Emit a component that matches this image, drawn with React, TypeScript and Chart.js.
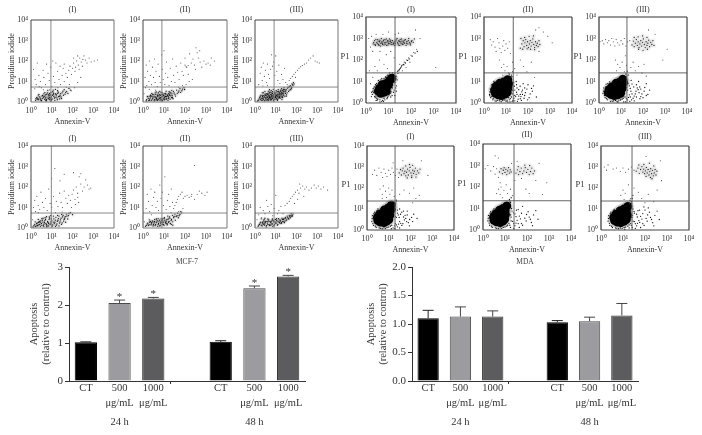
import React, { useEffect, useRef } from "react";
import { Chart, registerables } from "chart.js";
Chart.register(...registerables);

const SERIF = "'Liberation Serif', serif";
const decadeLabels = ["10⁰", "10¹", "10²", "10³", "10⁴"];
const barLabels = ["CT", ["500", "μg/mL"], ["1000", "μg/mL"], "", "CT", ["500", "μg/mL"], ["1000", "μg/mL"]];
const timeLabels = ["", "24 h", "", "", "", "48 h", ""];
const barFills = ["#000000", "#9c9ca0", "#5c5c5e", "#000", "#000000", "#9c9ca0", "#5c5c5e"];
const barEdges = ["#000000", "#4a4a4a", "#333333", "#000", "#000000", "#4a4a4a", "#333333"];

const mcfValues = [1.02, 2.05, 2.17, null, 1.03, 2.44, 2.75];
const mcfErrorTops = [1.03, 2.13, 2.2, null, 1.06, 2.5, 2.78];
const mcfStars = ["", "*", "*", "", "", "*", "*"];
const mdaValues = [1.1, 1.13, 1.13, null, 1.03, 1.05, 1.15];
const mdaErrorTops = [1.24, 1.3, 1.23, null, 1.06, 1.12, 1.36];
const mdaStars = ["", "", "", "", "", "", ""];

// flow-cytometry dots: flat x,y pairs in hundredths of a decade
const a1Core = [30,12,42,25,55,18,68,30,75,12,88,22,95,35,102,15,110,28,118,40,125,20,132,48,140,33,150,45,160,60,172,52,48,8,62,40,80,45,92,10,105,50,115,8,35,30,28,22,70,20,84,30,98,25,108,38,122,30,138,15,22,8,56,32,76,38,90,42,128,55,145,25,178,42,190,58];
const a1Extra = [47,14,63,27,71,9,83,17,97,6,103,33,113,19,127,11,136,27,91,31,77,24,66,13,53,29,44,19,37,11,109,43,121,37,143,41,133,26,156,33,167,47,99,13,86,37,74,6,61,21,51,6,33,17,116,23,147,17,129,42,96,47,81,57,67,46,107,58,118,62,154,53,183,66,164,38,38,37,24,16,88,14,72,36,94,19];
const a1Sparse = [12,160,20,110,25,85,30,190,38,130,45,100,50,70,58,155,62,120,70,85,75,185,82,140,88,105,95,170,100,75,108,125,115,95,120,190,128,150,135,110,142,85,150,130,155,165,160,100,168,140,175,120,182,155,188,175,195,135,200,165,205,190,212,150,220,200,228,180,235,215,242,195,248,175,255,225,262,205,270,190,280,215,290,195,305,200,320,205,210,70,195,55,225,95,185,85,240,120,60,60,40,75,18,65,90,60,130,70,170,72,215,170,232,160,250,208,225,225,205,215,160,185,140,175,105,200];
const a2Core = [15,5,25,18,32,8,38,28,45,15,52,35,58,22,62,10,68,28,72,40,78,18,82,32,88,24,92,45,96,14,100,30,104,20,108,42,112,26,118,35,122,18,128,48,132,30,138,40,145,52,152,36,160,58,168,48,176,65,185,55,195,70,48,25,55,12,65,20,75,30,85,15,94,36,102,24,110,12,120,28,35,20,42,42,70,8,90,8,126,38,140,22,58,45,80,52];
const a2Extra = [17,11,23,26,27,7,31,14,36,33,41,9,43,29,47,19,53,6,57,27,61,37,64,17,67,11,69,33,73,14,77,24,79,36,81,9,83,21,87,37,89,13,91,27,93,6,97,33,99,19,101,41,103,11,107,27,109,36,113,17,116,31,119,9,121,41,123,23,127,33,129,14,133,44,136,21,139,31,143,16,148,44,155,29,163,41,171,54,179,47,188,63,198,61,73,47,47,37,33,29,21,27,63,49,86,47,110,53,137,57,124,51];
const a2Sparse = [5,40,10,120,15,180,18,80,22,150,28,100,30,200,35,130,40,85,45,170,50,120,55,210,58,95,62,150,68,75,72,185,78,125,82,95,88,230,92,160,96,110,100,250,104,85,108,140,112,195,118,120,124,80,130,165,135,100,140,210,146,130,152,95,158,175,165,145,172,110,180,190,186,150,192,130,200,215,208,170,215,135,222,235,230,190,238,210,245,180,250,160,258,240,265,215,272,195,280,170,290,200,300,185,310,190,325,215,340,200,205,85,220,100,235,110,170,72,188,82,60,58,30,62,12,70,200,180,215,178,205,172,320,180,270,250,252,265];
const a3Core = [12,5,20,15,25,28,30,8,35,20,38,32,42,12,45,25,48,38,52,18,55,30,58,8,60,24,62,42,65,15,68,32,70,22,72,48,75,10,78,28,80,38,82,18,85,50,88,25,90,35,92,12,95,42,98,22,100,30,102,55,105,18,108,38,110,28,112,60,115,45,118,22,120,35,122,52,125,30,128,65,130,42,132,25,135,55,138,40,140,70,145,50,150,62,155,45,160,72,165,58,170,80,175,65,180,85,185,95,70,60,88,62,48,52,108,8,130,12,150,28,35,45];
const a3Extra = [17,9,23,22,27,14,29,33,33,17,36,27,37,9,41,19,43,31,47,6,49,23,51,33,53,11,54,41,57,21,59,37,61,13,63,28,64,35,66,7,67,19,69,44,71,26,73,15,74,36,76,21,77,46,79,11,81,31,83,24,84,42,86,16,87,34,89,6,91,28,93,20,94,48,96,13,97,36,99,26,101,45,103,15,104,33,106,25,107,50,109,11,111,34,113,20,114,52,116,38,117,28,119,44,121,18,123,58,124,40,126,25,127,48,129,36,131,56,133,22,134,44,136,33,137,62,139,50,141,29,143,60,147,42,149,55,152,35,157,68,162,52,167,75,172,60,177,72,183,80,188,88,64,53,78,55,41,45];
const a3Sparse = [18,85,25,140,30,170,35,105,40,190,45,125,50,155,55,95,60,185,65,135,70,115,75,160,80,230,85,175,90,195,95,130,100,225,105,150,110,105,115,180,120,90,128,135,135,110,142,165,148,95,155,85,165,105,172,115,180,125,188,135,195,145,205,155,212,165,220,172,228,178,238,185,248,190,258,205,268,215,280,225,290,200,300,195,310,190,168,75,60,82,38,78,195,120,178,90];
const b1Core = [10,5,18,18,25,10,30,25,35,15,40,32,45,8,50,22,55,38,60,14,65,28,70,42,75,18,80,32,85,10,90,48,95,24,100,36,105,15,110,45,115,28,120,52,125,20,130,38,135,58,140,30,145,48,150,25,155,62,160,42,165,55,170,68,180,60,190,75,200,65,58,48,75,55,95,60,20,30,35,42];
const b1Extra = [14,12,21,7,27,21,32,11,37,27,42,17,47,35,52,13,57,29,62,8,67,36,72,21,77,11,82,27,87,41,92,17,97,31,102,9,107,29,112,21,117,38,122,14,127,33,132,46,137,24,142,40,147,18,152,54,157,34,162,48,167,28,173,58,177,44,183,70,52,46,68,50,88,54,108,58,128,62,148,66,44,28,76,6,98,44,118,8,135,10,85,22,63,20];
const b1Sparse = [8,40,12,100,18,135,22,80,28,155,35,110,42,90,48,175,55,125,62,100,70,145,78,85,85,190,92,120,100,100,108,155,115,290,122,130,130,105,138,170,145,125,152,100,160,180,168,145,175,120,182,160,190,135,198,165,205,185,212,140,218,200,225,170,232,250,240,215,248,180,256,200,264,235,272,210,280,190,288,195,160,262,140,230,100,240,215,115,230,125,195,100,118,75,150,78,35,75,205,270,240,265,225,150];
const b2Core = [12,8,20,20,26,12,32,28,38,15,44,35,48,10,52,24,56,42,60,16,66,30,70,8,74,22,78,38,82,14,86,45,90,26,94,35,98,18,102,50,106,30,110,22,114,42,118,58,122,28,128,48,134,36,140,62,146,50,152,68,158,56,165,72,172,60,180,80,30,40,55,32,85,30,115,15,135,18];
const b2Extra = [16,13,23,24,29,16,35,32,41,20,46,30,50,16,54,30,58,12,63,26,68,36,72,16,76,30,80,10,84,24,88,36,92,18,96,28,100,12,104,38,108,26,112,34,116,20,120,44,124,32,130,22,136,42,142,30,148,56,154,38,162,60,168,50,176,66,184,74,40,26,64,44,100,46,126,54,142,14,92,44,72,46];
const b2Sparse = [6,30,15,95,20,165,26,130,32,80,38,190,44,110,50,150,56,175,62,100,68,130,74,85,80,210,86,145,92,175,98,110,104,250,110,90,116,135,122,165,128,105,134,75,140,125,146,95,152,110,158,125,164,140,170,155,178,165,186,175,192,145,200,155,210,160,220,150,232,165,245,140,258,165,268,180,280,170,295,160,305,175,245,305,230,155,40,65,170,80,190,95,135,190];
const b3Core = [15,8,22,18,28,28,34,10,38,22,42,35,46,14,50,26,54,5,58,32,62,18,66,40,70,12,74,28,78,20,82,38,86,8,90,30,94,16,98,42,102,24,106,34,110,18,114,46,118,28,122,38,126,22,130,48,134,32,138,42,142,26,146,52,150,36,155,58,160,46,165,62,170,50,175,70,180,60,30,45,48,48];
const b3Extra = [18,14,24,24,30,14,36,28,40,18,44,30,47,20,52,32,56,12,60,24,64,34,68,16,72,32,76,14,80,30,84,20,88,36,92,12,96,30,100,24,104,38,108,14,112,30,116,40,120,24,124,34,128,26,132,42,136,30,140,46,144,34,148,48,153,40,158,52,163,44,168,56,173,62,178,56,183,68,62,44,84,44,104,46,44,42];
const b3Sparse = [10,40,18,65,25,100,32,50,40,85,48,70,55,135,62,105,70,80,78,115,85,60,92,95,100,160,108,70,115,85,125,105,135,70,145,110,155,120,165,130,172,145,180,155,188,165,195,175,205,185,212,170,220,195,230,205,240,190,248,200,260,185,272,195,285,210,295,195,305,205,318,190,330,200,350,185,215,215,235,155,205,140,190,120];

const c1Blob = [55,55,65,45,78,50,90,55,60,68,75,68,90,72,100,85,72,85,87,90,105,105,115,115];
const c1Halo = [28,40,32,68,38,30,42,85,48,22,55,105,62,15,70,115,80,22,88,118,98,32,108,45,118,70,128,95,134,125,140,148,138,108,125,60,110,28,78,8,62,5,45,12,30,55,95,130,105,140,118,140,128,140,152,160,115,85,135,80];
const c1Extra = [34,48,37,75,41,25,47,90,52,18,58,95,66,108,74,12,84,15,93,20,103,38,112,52,119,82,126,105,130,118,122,50,132,70,36,60,44,32,50,14,70,8,96,25,116,35,88,122,100,128,112,132,142,138,146,150,148,156,155,166,158,172,165,180,168,178,175,186,185,198,192,205,205,218,218,232,228,240,60,100,80,115,55,88,25,50,24,30,135,55,128,35];
const c1Cloud = [32,275,38,290,42,268,48,282,52,295,56,272,60,285,65,265,68,300,72,278,76,288,80,270,84,295,88,282,92,268,96,290,100,278,104,298,108,285,112,272,118,290,122,278,128,268,132,288,138,300,142,276,146,290,150,268,154,284,158,298,162,274,166,288,170,278,175,296,178,268,182,286,186,275,190,300,194,282,198,270,204,290,210,282,215,298,34,282,40,272,44,296,50,276,54,288,58,268,62,292,66,278,70,284,74,272,78,292,82,280,86,274,90,298,94,284,98,270,102,288,106,276,110,292,114,282,120,272,126,284,130,276,134,294,140,282,144,270,148,286,152,296,156,276,160,288,164,272,168,282,172,292,180,278,188,290,196,276,202,286];
const c1Sparse = [12,300,20,260,25,310,30,240,45,320,62,240,75,320,90,225,110,240,125,210,130,320,150,180,160,175,170,190,180,200,190,210,200,222,212,235,225,250,162,150,178,165,195,190,80,180,60,200,40,170,95,160,30,120,50,150,220,340,240,300,310,165,145,325,100,330,15,150,20,90];
const c2Blob = [52,45,65,38,80,35,95,42,105,50,48,60,62,58,78,55,92,60,108,68,55,78,70,75,85,78,100,85,112,90,72,92,90,98,108,108];
const c2Halo = [25,40,28,65,30,25,35,85,40,15,45,100,55,8,70,10,85,12,100,8,115,15,125,28,132,12,140,35,148,50,155,18,165,40,175,60,128,75,135,95,140,60,148,85,122,115,125,130,130,145,115,135,165,20,185,35,195,65,205,25,220,55,150,70,178,90,118,5,90,115,75,108,55,98,225,80];
const c2Extra = [27,52,33,30,37,72,42,20,47,92,50,10,60,12,72,18,78,6,95,14,105,12,112,25,120,20,128,42,136,22,144,30,150,40,158,32,168,30,172,52,182,22,188,48,198,15,210,42,216,68,238,28,130,60,138,78,146,100,120,105,127,122,118,122,100,108,85,108,65,102,45,84,158,62,164,78,175,40,140,10,152,8,170,12,30,50,26,34,185,70,200,85,108,5,128,8];
const c2Cloud = [165,255,172,275,178,290,182,262,186,280,190,295,194,268,198,285,202,258,206,275,210,290,214,265,218,282,222,298,226,272,230,258,234,285,238,268,242,278,246,262,250,290,254,272,168,300,185,305,205,310,225,312,212,250,196,252,230,248,176,250];
const c2Sparse = [28,295,35,270,42,285,50,260,55,240,62,300,68,280,72,255,78,235,85,265,90,290,95,245,100,275,108,255,115,285,120,230,70,200,80,165,90,180,95,150,105,170,112,140,85,130,130,190,140,160,150,130,165,200,180,170,195,145,215,190,230,120,290,310,310,280,250,240,270,330,235,340,250,350];
const c3Blob = [42,48,55,40,70,35,85,38,98,45,46,62,60,58,75,55,90,60,105,68,58,75,72,75,88,78,102,85,112,95,78,92,95,98,108,110];
const c3Halo = [18,45,22,70,28,25,32,88,38,15,48,98,60,8,75,12,90,10,105,18,118,28,130,15,138,38,145,55,155,22,165,42,178,62,125,72,132,90,142,68,150,88,118,118,122,135,128,148,190,30,205,55,170,85,185,75,120,5,88,112,65,100,215,90,160,10,230,60];
const c3Extra = [21,55,25,35,30,75,34,20,40,90,52,8,66,10,82,6,98,14,110,22,124,20,134,26,142,28,150,42,160,32,170,28,182,48,174,70,186,20,195,42,208,72,222,40,130,60,138,80,146,105,112,108,124,124,132,130,100,105,78,105,55,92,35,60,148,15,168,55,190,65,200,25,215,35,140,8,112,5,86,4,158,75,180,100];
const c3Cloud = [150,270,156,288,160,262,165,278,170,295,174,268,178,284,182,258,186,275,190,290,194,265,198,282,202,298,206,272,210,258,214,285,218,268,222,278,226,292,230,262,235,282,240,272,245,290,250,268,160,305,178,308,198,312,218,305,180,250,200,245,220,250];
const c3Sparse = [5,285,15,290,22,275,30,295,38,280,45,290,52,270,58,300,65,285,72,265,78,295,85,280,92,270,100,290,108,275,115,300,122,265,130,285,140,290,75,200,85,180,95,165,105,190,80,150,115,145,125,175,135,130,145,165,155,190,165,150,180,170,195,140,205,180,215,125,120,220,290,200,310,250,255,320,225,340];
const d1Blob = [50,45,62,38,78,35,90,42,100,50,48,60,62,58,78,55,92,62,105,70,58,75,72,75,88,80,102,88,112,98,80,95,98,105,112,118];
const d1Halo = [22,40,25,68,30,22,35,85,42,12,50,100,62,8,78,10,92,12,108,18,120,10,130,30,140,15,150,40,160,22,172,48,130,65,140,80,148,60,160,85,122,118,128,132,135,142,175,70,190,35,205,60,88,118,70,105,185,90];
const d1Extra = [24,55,27,30,32,78,38,18,46,92,56,10,70,6,85,8,100,14,114,22,126,20,135,24,145,28,155,32,165,30,178,55,168,62,182,40,196,50,210,40,135,60,144,72,154,75,168,90,124,105,132,125,118,130,100,110,78,108,60,96,38,64,150,10,128,8,112,6,195,20,215,75,230,55,185,72,140,95,150,100];
const d1Cloud = [148,272,154,288,158,262,162,282,166,295,170,268,174,280,178,258,182,275,186,290,190,262,194,282,198,298,202,272,206,258,210,285,214,270,218,280,222,295,226,265,232,282,238,272,244,290,178,305,195,312,210,308,185,248,205,250,225,252];
const d1Sparse = [25,265,35,285,45,260,55,295,65,275,72,250,78,290,85,270,92,255,100,285,108,265,115,295,122,275,130,260,138,290,145,250,60,195,70,170,75,210,85,185,90,155,100,200,105,170,115,190,125,160,70,150,135,135,150,170,170,190,195,175,215,200,225,150,210,130,240,165,120,320,165,330,250,330,280,260];
const d2Blob = [50,45,62,38,78,35,90,42,98,50,48,60,62,58,78,55,92,62,102,72,58,75,72,75,88,80,100,90,75,92,92,100,108,112];
const d2Halo = [22,42,25,68,30,22,35,85,42,12,50,98,62,8,78,10,92,12,108,18,118,30,125,12,135,40,145,20,155,45,165,65,125,70,132,88,145,75,118,120,122,135,128,150,175,30,190,55,205,85,220,35,88,112,68,105,160,95,180,110,230,70,250,50];
const d2Extra = [24,55,28,32,33,78,38,18,46,92,56,10,70,6,85,8,100,14,112,22,122,22,128,42,140,30,150,32,160,30,170,52,180,22,196,42,210,60,225,20,128,60,138,80,152,92,120,108,125,128,120,142,105,112,82,108,62,100,38,64,140,8,165,12,198,72,215,50,240,90,175,78,150,62,130,100];
const d2Cloud = [75,270,82,285,88,262,92,278,96,290,100,268,104,282,108,258,112,275,116,290,120,265,124,280,128,270,150,265,156,280,162,258,168,272,174,288,180,262,186,275,192,290,198,268,204,282,210,258,216,272,222,288,228,262,234,275,160,295,190,302,212,300];
const d2Sparse = [10,285,22,300,35,275,48,295,55,260,62,285,70,245,78,220,82,200,70,190,62,170,78,165,88,150,95,185,105,210,112,170,125,190,135,160,130,310,145,230,155,320,175,240,195,190,210,170,240,230,255,310,270,165,290,220,55,345,70,335];
const d3Blob = [62,45,75,38,90,35,105,42,115,50,58,60,72,58,88,55,105,62,120,70,68,75,82,75,98,80,115,88,88,92,105,100,122,112];
const d3Halo = [32,42,35,68,40,22,45,85,52,12,60,98,72,8,88,10,105,12,122,18,135,30,142,12,152,40,162,20,172,45,180,65,142,70,150,88,162,75,135,120,138,135,142,150,190,30,205,55,220,85,235,35,100,112,78,105,175,95,195,110,245,70,265,50,145,165];
const d3Extra = [34,55,38,32,42,78,48,18,56,92,66,10,80,6,96,8,112,14,128,24,138,22,146,42,156,30,166,32,176,36,186,52,196,22,210,42,225,60,240,20,140,60,152,80,168,92,132,108,138,128,132,142,115,112,92,108,72,100,48,64,156,8,180,12,212,72,230,50,255,90,190,78,165,62,145,100,200,95,215,105,128,10,108,4];
const d3Cloud = [160,280,168,295,174,270,180,288,186,302,190,276,194,290,198,268,202,282,206,298,210,272,214,288,218,262,222,278,226,292,230,268,234,284,238,258,242,272,246,288,250,262,254,280,172,310,195,312,220,318,240,305,205,255,225,250,232,244];
const d3Sparse = [15,300,25,285,32,310,55,290,70,295,88,280,100,295,112,275,125,290,138,300,150,285,100,190,90,165,110,175,125,215,135,150,150,200,170,180,185,150,200,130,215,170,240,135,255,190,130,125,105,145,270,330,205,350,275,235];

const panels = [
  { r: [31, 20, 83, 82], pts: a1Core, more: a1Extra, sp: a1Sparse, q: [0.96, 0.73], t: "(I)", g: 10 },
  { r: [143, 20, 84, 82], pts: a2Core, more: a2Extra, sp: a2Sparse, q: [0.9, 0.73], t: "(II)", g: 10 },
  { r: [255, 20, 83, 82], pts: a3Core, more: a3Extra, sp: a3Sparse, q: [0.92, 0.73], t: "(III)", g: 10 },
  { r: [31, 146, 83, 82], pts: b1Core, more: b1Extra, sp: b1Sparse, q: [0.98, 0.73], t: "(I)", g: 7 },
  { r: [143, 146, 84, 82], pts: b2Core, more: b2Extra, sp: b2Sparse, q: [0.9, 0.73], t: "(II)", g: 7 },
  { r: [255, 146, 83, 82], pts: b3Core, more: b3Extra, sp: b3Sparse, q: [0.92, 0.73], t: "(III)", g: 7 },
  { r: [366, 17, 90, 86], blob: c1Blob, pts: c1Halo, more: c1Extra, cloud: c1Cloud, sp: c1Sparse, q: [1.29, 1.4], t: "(I)", g: 7 },
  { r: [484, 17, 88, 86], blob: c2Blob, pts: c2Halo, more: c2Extra, cloud: c2Cloud, sp: c2Sparse, q: [1.33, 1.4], t: "(II)", g: 7 },
  { r: [599, 17, 88, 86], blob: c3Blob, pts: c3Halo, more: c3Extra, cloud: c3Cloud, sp: c3Sparse, q: [1.27, 1.4], t: "(III)", g: 7 },
  { r: [367, 146, 87, 84], blob: d1Blob, pts: d1Halo, more: d1Extra, cloud: d1Cloud, sp: d1Sparse, q: [1.29, 1.38], t: "(I)", g: 9 },
  { r: [483, 144, 88, 86], blob: d2Blob, pts: d2Halo, more: d2Extra, cloud: d2Cloud, sp: d2Sparse, q: [1.41, 1.36], t: "(II)", g: 9 },
  { r: [601, 146, 88, 84], blob: d3Blob, pts: d3Halo, more: d3Extra, cloud: d3Cloud, sp: d3Sparse, q: [1.41, 1.38], t: "(III)", g: 9 },
];

const toXY = (flat: number[] = []) => {
  const out: { x: number; y: number }[] = [];
  for (let i = 0; i < flat.length; i += 2) out.push({ x: flat[i] / 100, y: flat[i + 1] / 100 });
  return out;
};

const frame = (isRight: boolean) => ({
  id: "frame",
  afterDatasetsDraw(c: any) {
    const { left, right, top, bottom } = c.chartArea;
    const x = c.ctx;
    x.save();
    x.lineWidth = isRight ? 1.2 : 1;
    x.strokeStyle = isRight ? "#333" : "#444";
    x.beginPath(); x.moveTo(left, bottom); x.lineTo(left, top); x.lineTo(right, top); x.stroke();
    x.strokeStyle = isRight ? "#444" : "#777";
    x.beginPath(); x.moveTo(right, top); x.lineTo(right, bottom); x.lineTo(left, bottom); x.stroke();
    x.restore();
  },
});

const p1Label = {
  id: "p1",
  afterDraw(c: any) {
    const { left, top, bottom } = c.chartArea;
    const x = c.ctx;
    x.save();
    x.font = `8.5px ${SERIF}`;
    x.fillStyle = "#333";
    x.textAlign = "center";
    x.textBaseline = "middle";
    x.fillText("P1", left - 21, (top + bottom) / 2 - 3);
    x.restore();
  },
};

function makePanel(cv: HTMLCanvasElement, p: any) {
  const isRight = !!p.blob;
  const [l, t, w, h] = p.r;
  const L = isRight ? 30 : 24, T = 22, R = 10, B = 25;
  cv.width = L + w + R; cv.height = T + h + B;
  cv.style.cssText = `position:absolute;display:block;left:${l - L}px;top:${t - T}px;width:${L + w + R}px;height:${T + h + B}px;filter:blur(0.35px)`;
  const tick = { font: { family: SERIF, size: 8 }, color: "#333" };
  const ds: any[] = [
    { data: [{ x: p.q[0], y: 0 }, { x: p.q[0], y: 4 }], showLine: true, pointRadius: 0, borderColor: isRight ? "#666" : "#888", borderWidth: 1 },
    { data: [{ x: 0, y: p.q[1] }, { x: 4, y: p.q[1] }], showLine: true, pointRadius: 0, borderColor: isRight ? "#666" : "#888", borderWidth: 1 },
    { data: toXY(p.sp), pointRadius: 0.55, pointBorderWidth: 0, backgroundColor: "#444" },
    { data: toXY(p.pts), pointRadius: 0.65, pointBorderWidth: 0, backgroundColor: "#111" },
    { data: toXY(p.more), pointRadius: 0.65, pointBorderWidth: 0, backgroundColor: "#111" },
  ];
  if (isRight) {
    ds.push({ data: toXY(p.cloud), pointRadius: 0.65, pointBorderWidth: 0, backgroundColor: "#222" });
    ds.push({ data: toXY(p.blob), pointRadius: 4.5, pointBorderWidth: 0, backgroundColor: "#000" });
    // soft density underlays
    ds.push({ data: toXY(p.cloud), pointRadius: 2.5, pointBorderWidth: 0, backgroundColor: "rgba(0,0,0,0.05)" });
    ds.push({ data: toXY(p.blob), pointRadius: 6.5, pointBorderWidth: 0, backgroundColor: "rgba(0,0,0,0.12)" });
  } else {
    ds.push({ data: toXY(p.pts), pointRadius: 2, pointBorderWidth: 0, backgroundColor: "rgba(0,0,0,0.06)" });
    ds.push({ data: toXY(p.more), pointRadius: 2, pointBorderWidth: 0, backgroundColor: "rgba(0,0,0,0.06)" });
  }
  return new Chart(cv, {
    type: "scatter",
    data: { datasets: ds },
    plugins: isRight ? [frame(true), p1Label] : [frame(false)],
    options: {
      responsive: false,
      animation: false,
      layout: { padding: { right: R, left: 0, top: 0, bottom: 0 } },
      plugins: {
        legend: { display: false },
        tooltip: { enabled: false },
        title: {
          display: true, text: p.t, fullSize: false, color: "#333",
          font: { family: SERIF, size: 8, weight: "normal", lineHeight: 1.2 },
          padding: { top: T - 9.6 - (p.g - 4.8), bottom: p.g - 4.8 },
        },
      },
      scales: {
        x: {
          type: "linear", min: 0, max: 4,
          afterFit: (s: any) => { s.height = B; },
          border: { display: false },
          grid: { display: false, drawTicks: true, tickLength: 2 },
          ticks: { ...tick, stepSize: 1, padding: 2, maxRotation: 0, callback: (v: any) => decadeLabels[v] },
          title: { display: true, text: "Annexin-V", color: "#333", padding: 0, font: { family: SERIF, size: 8, lineHeight: 1.2 } },
        },
        y: {
          type: "linear", min: 0, max: 4,
          afterFit: (s: any) => { s.width = L; },
          border: { display: false },
          grid: { display: false, tickLength: 2 },
          ticks: { ...tick, stepSize: 1, padding: 1, callback: (v: any) => decadeLabels[v] },
          title: { display: !isRight, text: "Propidium iodide", color: "#333", padding: 0, font: { family: SERIF, size: 8, lineHeight: 1.2 } },
        },
      },
    } as any,
  });
}

const barSpecs = [
  { box: [28, 254, 292, 178], plot: [69, 267, 236, 112], title: "MCF-7", values: mcfValues, tops: mcfErrorTops, stars: mcfStars, max: 3, step: 1, digits: 0 },
  { box: [365, 254, 287, 178], plot: [412, 267, 226, 112], title: "MDA", values: mdaValues, tops: mdaErrorTops, stars: mdaStars, max: 2, step: 0.5, digits: 1 },
];

const errorBars = (tops: (number | null)[], stars: string[]) => ({
  id: "errorBars",
  afterDatasetsDraw(c: any) {
    const x = c.ctx, sx = c.scales.x, sy = c.scales.y;
    const vals = c.data.datasets[0].data;
    x.save();
    tops.forEach((top, i) => {
      if (top == null) return;
      const px = sx.getPixelForValue(i), y0 = sy.getPixelForValue(vals[i]), y1 = sy.getPixelForValue(top);
      x.strokeStyle = i % 4 === 0 ? "#222" : "#444";
      x.lineWidth = 1;
      x.beginPath();
      x.moveTo(px, y0); x.lineTo(px, y1);
      x.moveTo(px - 5.5, y1); x.lineTo(px + 5.5, y1);
      x.stroke();
      if (stars[i]) {
        x.font = `11px ${SERIF}`;
        x.fillStyle = "#333";
        x.textAlign = "center";
        x.textBaseline = "middle";
        x.fillText(stars[i], px, y1 - 3);
      }
    });
    x.restore();
  },
});

function makeBars(cv: HTMLCanvasElement, s: any) {
  const [bl, bt, bw, bh] = s.box;
  const [pl, pt, pw, ph] = s.plot;
  cv.width = bw; cv.height = bh;
  cv.style.cssText = `position:absolute;display:block;left:${bl}px;top:${bt}px;width:${bw}px;height:${bh}px`;
  const font = { family: SERIF, size: 10.5 };
  const titleH = 9;
  return new Chart(cv, {
    type: "bar",
    data: {
      labels: barLabels as any,
      datasets: [{ data: s.values, backgroundColor: barFills, borderColor: barEdges, borderWidth: 1, barPercentage: 0.66, categoryPercentage: 1 }],
    },
    plugins: [errorBars(s.tops, s.stars)],
    options: {
      responsive: false,
      animation: false,
      layout: { padding: { right: bw - (pl - bl) - pw, left: 0, top: 0, bottom: 0 } },
      plugins: {
        legend: { display: false },
        tooltip: { enabled: false },
        title: {
          display: true, text: s.title, fullSize: false, color: "#444",
          font: { family: SERIF, size: 7.5, weight: "normal", lineHeight: 1.2 },
          padding: { top: pt - bt - titleH, bottom: 0 },
        },
      },
      scales: {
        x: {
          type: "category",
          afterFit: (a: any) => { a.height = 31; },
          border: { color: "#333", width: 1 },
          grid: { display: true, drawOnChartArea: false, tickLength: 3, tickColor: (c: any) => (c.index === 3 ? "#333" : "rgba(0,0,0,0)") },
          ticks: { font: { ...font, lineHeight: 14.5 / 10.5 }, color: "#333", padding: -3, autoSkip: false, maxRotation: 0 },
        },
        x2: {
          type: "category", position: "bottom", labels: timeLabels,
          afterFit: (a: any) => { a.height = 20; },
          border: { display: false },
          grid: { display: false, drawTicks: false },
          ticks: { font, color: "#333", padding: 4, autoSkip: false, maxRotation: 0 },
        },
        y: {
          type: "linear", min: 0, max: s.max,
          afterFit: (a: any) => { a.width = pl - bl; },
          border: { color: "#333", width: 1 },
          grid: { drawOnChartArea: false, tickLength: 4, tickColor: "#333" },
          ticks: { font: { family: SERIF, size: 11 }, color: "#333", stepSize: s.step, padding: 2, callback: (v: any) => Number(v).toFixed(s.digits) },
          title: { display: true, text: ["Apoptosis", "(relative to control)"], color: "#333", padding: 0, font: { family: SERIF, size: 10.5, lineHeight: 1.15 } },
        },
      },
    } as any,
  });
}

export default function App() {
  const host = useRef<HTMLDivElement>(null);
  useEffect(() => {
    const charts: Chart[] = [];
    const root = host.current!;
    panels.forEach((p) => {
      const cv = document.createElement("canvas");
      root.appendChild(cv);
      charts.push(makePanel(cv, p));
    });
    barSpecs.forEach((s) => {
      const cv = document.createElement("canvas");
      root.appendChild(cv);
      charts.push(makeBars(cv, s));
    });
    return () => {
      charts.forEach((c) => c.destroy());
      root.innerHTML = "";
    };
  }, []);
  return <div ref={host} style={{ position: "absolute", left: 0, top: 0, width: 702, height: 435, background: "#fff", overflow: "hidden" }} />;
}
